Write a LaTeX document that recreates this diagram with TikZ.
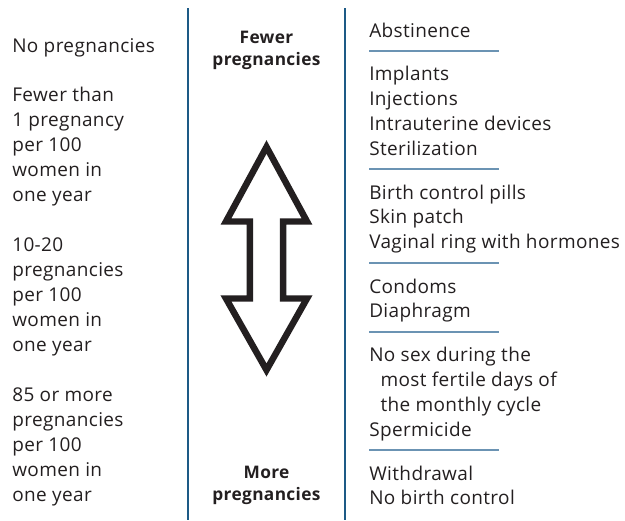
\documentclass[tikz,border=0pt]{standalone}
\usepackage{fontspec}
\setmainfont{Open Sans}[LetterSpace=2]
\usepackage{tikz}

\definecolor{inkgray}{HTML}{231F20}
\definecolor{divblue}{HTML}{1D5A86}
\definecolor{ruleblue}{HTML}{6B93B3}

\tikzset{
    bodytext/.style={anchor=base west, align=left, inner sep=0pt, text=inkgray,
        font=\fontsize{13.5}{17.7}\selectfont},
    headtext/.style={anchor=base, align=center, inner sep=0pt, text=inkgray,
        font=\fontsize{12.3}{15}\selectfont\bfseries},
    divider/.style={divblue, line width=1.4pt},
    grouprule/.style={ruleblue, line width=1.1pt}
}

\begin{document}
\begin{tikzpicture}[
            x=0.025cm, y=-0.025cm,
            declare function={
                Cx=266.5;
                LeftX=12;
                RightX=369;
                RuleEnd=499;
                HeadW=40.5;
                ShaftW=16.7;
            }
        ]
            \useasboundingbox (0, 0) rectangle (625, 520);

            % column dividers
            \draw[divider] (188, 8) -- (188, 520);
            \draw[divider] (345, 8) -- (345, 520);

            % left column: rates (placed at the baseline of their last line)
            \node[bodytext] (ratenone) at (LeftX, 52) {No pregnancies};
            \node[bodytext] (ratelow) at (LeftX, 201.3) {Fewer than\\1 pregnancy\\per 100\\women in\\one year};
            \node[bodytext] (ratemid) at (LeftX, 351.3) {10-20\\pregnancies\\per 100\\women in\\one year};
            \node[bodytext] (ratehigh) at (LeftX, 501.3) {85 or more\\pregnancies\\per 100\\women in\\one year};

            % middle column
            \node[headtext] (fewer) at (Cx, 65) {Fewer\\pregnancies};
            \node[headtext] (more) at (Cx, 500) {More\\pregnancies};

            \draw[inkgray, line width=4.6pt, miter limit=20]
                (Cx, 147) -- ({Cx + HeadW}, 221.5) -- ({Cx + ShaftW}, 221.5)
                -- ({Cx + ShaftW}, 298.5) -- ({Cx + HeadW}, 298.5) -- (Cx, 370)
                -- ({Cx - HeadW}, 298.5) -- ({Cx - ShaftW}, 298.5)
                -- ({Cx - ShaftW}, 221.5) -- ({Cx - HeadW}, 221.5) -- cycle;

            % right column: methods
            \node[bodytext] (abstain) at (RightX, 37) {Abstinence};
            \draw[grouprule] (RightX, 51) -- (RuleEnd, 51);
            \node[bodytext] (longterm) at (RightX, 155.6) {Implants\\Injections\\Intrauterine devices\\Sterilization};
            \draw[grouprule] (RightX, 169) -- (RuleEnd, 169);
            \node[bodytext] (hormonal) at (RightX, 248.8) {Birth control pills\\Skin patch\\Vaginal ring with hormones};
            \draw[grouprule] (RightX, 263) -- (RuleEnd, 263);
            \node[bodytext] (barrier) at (RightX, 317.9) {Condoms\\Diaphragm};
            \draw[grouprule] (RightX, 332) -- (RuleEnd, 332);
            \node[bodytext] (timing) at (RightX, 436.6) {No sex during the\\\hspace*{8pt}most fertile days of\\\hspace*{8pt}the monthly cycle\\Spermicide};
            \draw[grouprule] (RightX, 450) -- (RuleEnd, 450);
            \node[bodytext] (nomethod) at (RightX, 504.9) {Withdrawal\\No birth control};
        \end{tikzpicture}
\end{document}
